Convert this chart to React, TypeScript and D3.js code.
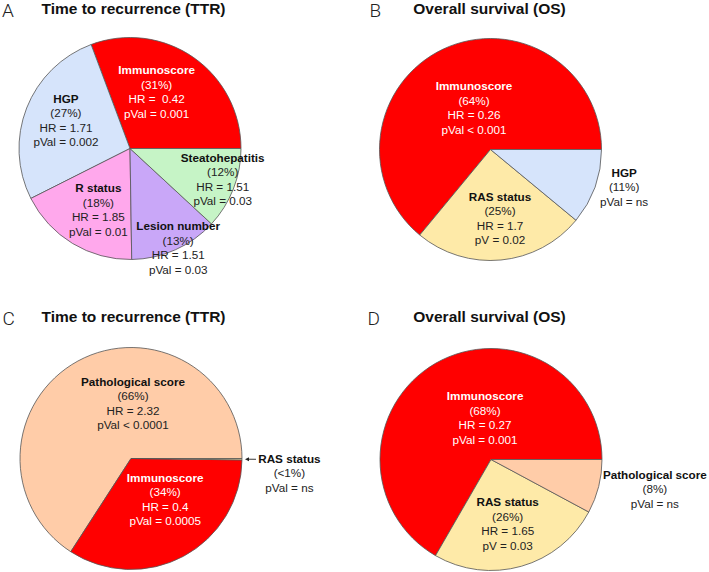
import React from "react";
import * as d3 from "d3";

// ---------- data ----------
const ttrMultiTerms = ["Immunoscore", "HGP", "R status", "Lesion number", "Steatohepatitis"];
const ttrMultiShare = [31, 27, 18, 13, 12];
const ttrMultiShareText = ["(31%)", "(27%)", "(18%)", "(13%)", "(12%)"];
const ttrMultiHR = ["HR =  0.42", "HR = 1.71", "HR = 1.85", "HR = 1.51", "HR = 1.51"];
const ttrMultiP = ["pVal = 0.001", "pVal = 0.002", "pVal = 0.01", "pVal = 0.03", "pVal = 0.03"];

const osMultiTerms = ["Immunoscore", "RAS status", "HGP"];
const osMultiShare = [64, 25, 11];
const osMultiShareText = ["(64%)", "(25%)", "(11%)"];
const osMultiHR = ["HR = 0.26", "HR = 1.7", ""];
const osMultiP = ["pVal < 0.001", "pV = 0.02", "pVal = ns"];

const ttrScoreTerms = ["Pathological score", "Immunoscore", "RAS status"];
const ttrScoreShare = [66, 34, 0.2];
const ttrScoreShareText = ["(66%)", "(34%)", "(<1%)"];
const ttrScoreHR = ["HR = 2.32", "HR = 0.4", ""];
const ttrScoreP = ["pVal < 0.0001", "pVal = 0.0005", "pVal = ns"];

const osScoreTerms = ["Immunoscore", "RAS status", "Pathological score"];
const osScoreShare = [68, 26, 8];
const osScoreShareText = ["(68%)", "(26%)", "(8%)"];
const osScoreHR = ["HR = 0.27", "HR = 1.65", ""];
const osScoreP = ["pVal = 0.001", "pV = 0.03", "pVal = ns"];

const panelLetters = ["A", "B", "C", "D"];
const panelTitles = [
  "Time to recurrence (TTR)",
  "Overall survival (OS)",
  "Time to recurrence (TTR)",
  "Overall survival (OS)",
];

const termNames = ["Immunoscore", "HGP", "R status", "Lesion number", "Steatohepatitis", "RAS status", "Pathological score"];
const termColors = ["#FF0000", "#D6E4FB", "#FFA8EC", "#C9A7F8", "#C6F4C6", "#FEEAA8", "#FFCCA8"];

// ---------- layout ----------
const W = 709;
const H = 572;
const R = 111;
const FONT = "'Liberation Sans', Arial, Helvetica, sans-serif";

type Panel = {
  terms: string[];
  share: number[];
  shareText: string[];
  hr: string[];
  p: string[];
  cx: number;
  cy: number;
  titleX: number;
  titleY: number;
  letterX: number;
  letterY: number;
  // label placement: [radius fraction, angular nudge in degrees (counter-clockwise)]
  labelPos: [number, number][];
  arrow?: number; // index of slice whose label gets an arrow
};

const panels: Panel[] = [
  {
    terms: ttrMultiTerms, share: ttrMultiShare, shareText: ttrMultiShareText, hr: ttrMultiHR, p: ttrMultiP,
    cx: 130, cy: 148.5, titleX: 41.5, titleY: 14, letterX: 2, letterY: 17,
    labelPos: [[0.565, 9.6], [0.63, -2.2], [0.62, 3.8], [0.995, 1.8], [0.88, 3]],
  },
  {
    terms: osMultiTerms, share: osMultiShare, shareText: osMultiShareText, hr: osMultiHR, p: osMultiP,
    cx: 490.5, cy: 149.5, titleX: 413.3, titleY: 14, letterX: 369.5, letterY: 17,
    labelPos: [[0.405, -3.7], [0.624, 2.5], [1.25, 4.2]],
  },
  {
    terms: ttrScoreTerms, share: ttrScoreShare, shareText: ttrScoreShareText, hr: ttrScoreHR, p: ttrScoreP,
    cx: 131, cy: 458.5, titleX: 41.5, titleY: 322, letterX: 2.5, letterY: 325,
    labelPos: [[0.5, -30.6], [0.48, 11.7], [1.433, -4.8]],
    arrow: 2,
  },
  {
    terms: osScoreTerms, share: osScoreShare, shareText: osScoreShareText, hr: osScoreHR, p: osScoreP,
    cx: 491, cy: 459.5, titleX: 413.3, titleY: 322, letterX: 367.5, letterY: 325,
    labelPos: [[0.38, -21.9], [0.6, -1.4], [1.5, 3.9]],
  },
];

const color = d3.scaleOrdinal<string, string>().domain(termNames).range(termColors);

const pie = d3
  .pie<number>()
  .sort(null)
  .startAngle(Math.PI / 2)
  .endAngle(Math.PI / 2 - 2 * Math.PI)
  .value((d) => d);

const arc = d3.arc<d3.PieArcDatum<number>>().innerRadius(0).outerRadius(R);

const LINE = 14.5;

function PiePanel({ panel, index }: { panel: Panel; index: number }) {
  const arcs = pie(panel.share);
  return (
    <g>
      <text x={panel.letterX} y={panel.letterY} fontSize={19} fontWeight={300} fill="#222" fontFamily="Roboto, 'Liberation Sans', Arial, sans-serif">
        {panelLetters[index]}
      </text>
      <text x={panel.titleX} y={panel.titleY} fontSize={15.5} fontWeight="bold" fill="#111" fontFamily={FONT}>
        {panelTitles[index]}
      </text>
      <g transform={`translate(${panel.cx},${panel.cy})`}>
        {arcs.map((a, i) => (
          <path key={i} d={arc(a) || ""} fill={color(panel.terms[i])} stroke="#555" strokeWidth={0.8} strokeLinejoin="round" />
        ))}
        {arcs.map((a, i) => {
          const [frac, nudge] = panel.labelPos[i];
          const mid = (a.startAngle + a.endAngle) / 2 - (nudge * Math.PI) / 180;
          const lx = R * frac * Math.sin(mid);
          const ly = -R * frac * Math.cos(mid);
          const lines = [panel.terms[i], panel.shareText[i], panel.hr[i], panel.p[i]].filter((s) => s !== "");
          const white = panel.terms[i] === "Immunoscore";
          const y0 = ly - ((lines.length - 1) * LINE) / 2;
          return (
            <g key={"l" + i}>
              {lines.map((s, k) => (
                <text
                  key={k}
                  x={lx}
                  y={y0 + k * LINE + 4.2}
                  textAnchor="middle"
                  fontSize={11.7}
                  fontWeight={k === 0 ? "bold" : "normal"}
                  fill={white ? "#fff" : k === 0 ? "#111" : "#222"}
                  fontFamily={FONT}
                  style={{ whiteSpace: "pre" }}
                  xmlSpace="preserve"
                >
                  {s}
                </text>
              ))}
            </g>
          );
        })}
        {panel.arrow !== undefined &&
          (() => {
            const a = arcs[panel.arrow];
            const mid = (a.startAngle + a.endAngle) / 2;
            const x1 = (R + 14) * Math.sin(mid);
            const y1 = -(R + 14) * Math.cos(mid);
            const x2 = (R + 3) * Math.sin(mid);
            const y2 = -(R + 3) * Math.cos(mid);
            return (
              <g>
                <line x1={x1} y1={y1} x2={x2 + 3} y2={y2} stroke="#222" strokeWidth={0.9} />
                <path d={`M${x2},${y2} L${x2 + 4},${y2 - 2} L${x2 + 4},${y2 + 2} Z`} fill="#222" />
              </g>
            );
          })()}
      </g>
    </g>
  );
}

export default function App() {
  return (
    <svg
      width={W}
      height={H}
      viewBox={`0 0 ${W} ${H}`}
      style={{ position: "absolute", left: 0, top: 0, background: "#fff" }}
    >
      <rect x={0} y={0} width={W} height={H} fill="#fff" />
      {panels.map((p, i) => (
        <PiePanel key={i} panel={p} index={i} />
      ))}
    </svg>
  );
}
